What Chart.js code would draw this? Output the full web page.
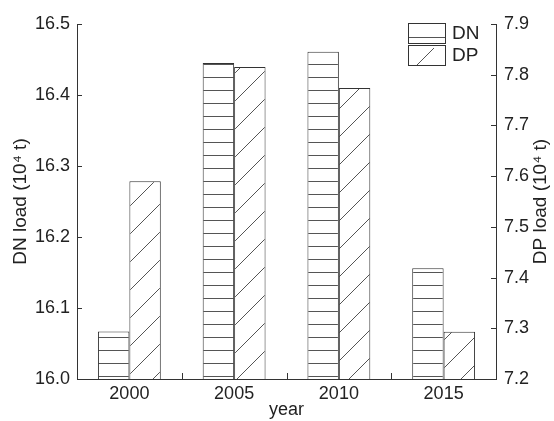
<!DOCTYPE html>
<html>
<head>
<meta charset="utf-8">
<script src="https://cdn.jsdelivr.net/npm/chart.js@4/dist/chart.umd.min.js"></script>
<style>
  html, body { margin: 0; padding: 0; background: #fff; }
  #wrap { width: 554px; height: 421px; }
</style>
</head>
<body>
<div id="wrap"><canvas id="c" width="554" height="421"></canvas></div>
<script>
// Annual loads by year: DN on the left axis, DP on the right axis (10^4 t)
const years = ['2000', '2005', '2010', '2015'];
const dnLoad = [16.067, 16.445, 16.461, 16.156];
const dpLoad = [7.590, 7.815, 7.774, 7.293];
const dnRange = [16.0, 16.5];
const dpRange = [7.2, 7.9];
const tickStep = 0.1;

const FONT = "'Liberation Sans', Arial, sans-serif";
const INK = '#222';
const LINE = '#333';
const HATCH = '#555';

// Horizontal-line hatch fill
function horizontalHatch() {
  const c = document.createElement('canvas');
  c.width = 8; c.height = 13;
  const g = c.getContext('2d');
  g.fillStyle = '#fff';
  g.fillRect(0, 0, 8, 13);
  g.strokeStyle = HATCH;
  g.lineWidth = 1;
  g.beginPath();
  g.moveTo(0, 12.5);
  g.lineTo(8, 12.5);
  g.stroke();
  return g.createPattern(c, 'repeat');
}

// Forward-slash hatch fill
function diagonalHatch() {
  const s = 28;
  const c = document.createElement('canvas');
  c.width = s; c.height = s;
  const g = c.getContext('2d');
  g.fillStyle = '#fff';
  g.fillRect(0, 0, s, s);
  g.strokeStyle = HATCH;
  g.lineWidth = 1;
  g.beginPath();
  for (const k of [-s, 0, s]) {
    g.moveTo(k, s);
    g.lineTo(k + s, 0);
  }
  g.stroke();
  return g.createPattern(c, 'repeat');
}

// Inward tick marks on all three axes
const innerTicks = {
  id: 'innerTicks',
  afterDraw(chart) {
    const ctx = chart.ctx;
    const { y, y1, x } = chart.scales;
    ctx.save();
    ctx.strokeStyle = LINE;
    ctx.lineWidth = 1;
    ctx.beginPath();
    y.ticks.forEach(t => {
      const py = Math.round(y.getPixelForValue(t.value)) + 0.5;
      ctx.moveTo(y.right, py);
      ctx.lineTo(y.right + 5, py);
    });
    y1.ticks.forEach(t => {
      const py = Math.round(y1.getPixelForValue(t.value)) + 0.5;
      ctx.moveTo(y1.left, py);
      ctx.lineTo(y1.left - 5, py);
    });
    for (let i = 0; i < x.ticks.length - 1; i++) {
      const px = Math.round((x.getPixelForTick(i) + x.getPixelForTick(i + 1)) / 2) + 0.5;
      ctx.moveTo(px, x.top);
      ctx.lineTo(px, x.top - 6);
    }
    ctx.stroke();
    ctx.restore();
  }
};

// Vertical axis titles, both reading bottom to top
const axisTitles = {
  id: 'axisTitles',
  afterDraw(chart) {
    const ctx = chart.ctx;
    const a = chart.chartArea;
    const cy = (a.top + a.bottom) / 2;
    ctx.save();
    ctx.fillStyle = INK;
    ctx.font = '19px ' + FONT;
    ctx.textAlign = 'center';
    ctx.textBaseline = 'middle';
    [[21, 'DN load (10\u2074 t)'], [541, 'DP load (10\u2074 t)']].forEach(([px, txt]) => {
      ctx.save();
      ctx.translate(px, cy);
      ctx.rotate(-Math.PI / 2);
      ctx.fillText(txt, 0, 0);
      ctx.restore();
    });
    ctx.restore();
  }
};

// Boxed legend in the upper right corner
const hatchLegend = {
  id: 'hatchLegend',
  afterDraw(chart) {
    const ctx = chart.ctx;
    const bx = 408, bw = 37, bh = 20;
    const rows = [{ y: 23, label: chart.data.datasets[0].label, kind: 'h' },
                  { y: 45, label: chart.data.datasets[1].label, kind: 'd' }];
    ctx.save();
    ctx.lineWidth = 1;
    rows.forEach(r => {
      ctx.fillStyle = '#fff';
      ctx.fillRect(bx, r.y, bw, bh);
      ctx.strokeStyle = HATCH;
      ctx.beginPath();
      if (r.kind === 'h') {
        ctx.moveTo(bx, r.y + 14.5);
        ctx.lineTo(bx + bw, r.y + 14.5);
      } else {
        ctx.moveTo(bx + 9, r.y + bh);
        ctx.lineTo(bx + 26, r.y + 3);
      }
      ctx.stroke();
      ctx.strokeStyle = LINE;
      ctx.strokeRect(bx + 0.5, r.y + 0.5, bw, bh);
      ctx.fillStyle = INK;
      ctx.font = '19px ' + FONT;
      ctx.textAlign = 'left';
      ctx.textBaseline = 'middle';
      ctx.fillText(r.label, bx + bw + 7, r.y + bh / 2 + 1);
    });
    ctx.restore();
  }
};

const tickFont = { family: FONT, size: 18 };

new Chart(document.getElementById('c'), {
  type: 'bar',
  data: {
    labels: years,
    datasets: [
      {
        label: 'DN',
        data: dnLoad,
        yAxisID: 'y',
        backgroundColor: horizontalHatch(),
        borderColor: LINE,
        borderWidth: 1,
        borderSkipped: false
      },
      {
        label: 'DP',
        data: dpLoad,
        yAxisID: 'y1',
        backgroundColor: diagonalHatch(),
        borderColor: LINE,
        borderWidth: 1,
        borderSkipped: false
      }
    ]
  },
  options: {
    responsive: false,
    animation: false,
    devicePixelRatio: 1,
    layout: { padding: { top: 24, left: 0, right: 0, bottom: 0 } },
    plugins: {
      legend: { display: false },
      tooltip: { enabled: false }
    },
    datasets: {
      bar: { categoryPercentage: 0.6, barPercentage: 1.0 }
    },
    scales: {
      x: {
        type: 'category',
        offset: true,
        grid: { display: false, drawTicks: false },
        border: { display: true, color: LINE, width: 1 },
        ticks: { font: tickFont, color: INK, padding: 4, maxRotation: 0 },
        title: { display: true, text: 'year', font: { family: FONT, size: 18 }, color: INK, padding: { top: 0, bottom: 0 } },
        afterFit(s) { s.height = 42; }
      },
      y: {
        position: 'left',
        min: dnRange[0],
        max: dnRange[1],
        grid: { display: false, drawTicks: false },
        border: { display: true, color: LINE, width: 1 },
        ticks: { stepSize: tickStep, font: tickFont, color: INK, padding: 7, callback: v => v.toFixed(1) },
        afterFit(s) { s.width = 77; }
      },
      y1: {
        position: 'right',
        min: dpRange[0],
        max: dpRange[1],
        grid: { display: false, drawTicks: false },
        border: { display: true, color: LINE, width: 1 },
        ticks: { stepSize: tickStep, font: tickFont, color: INK, padding: 8, callback: v => v.toFixed(1) },
        afterFit(s) { s.width = 58; }
      }
    }
  },
  plugins: [innerTicks, axisTitles, hatchLegend]
});
</script>
</body>
</html>
